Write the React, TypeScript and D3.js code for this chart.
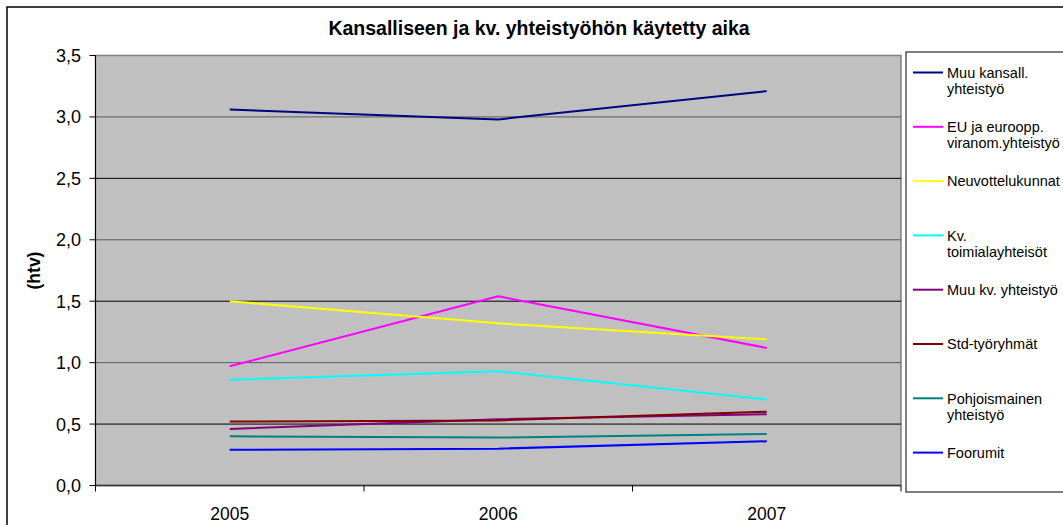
import React from "react";
import * as d3 from "d3";

const years = ["2005", "2006", "2007"];
const seriesNames = [
  ["Muu kansall.", "yhteistyö"],
  ["EU ja euroopp.", "viranom.yhteistyö"],
  ["Neuvottelukunnat"],
  ["Kv.", "toimialayhteisöt"],
  ["Muu kv. yhteistyö"],
  ["Std-työryhmät"],
  ["Pohjoismainen", "yhteistyö"],
  ["Foorumit"],
];
const seriesColors = ["#000080", "#FF00FF", "#FFFF00", "#00FFFF", "#800080", "#800000", "#008080", "#0000FF"];
const muuKansall = [3.06, 2.98, 3.21];
const euViranom = [0.97, 1.54, 1.12];
const neuvottelukunnat = [1.5, 1.32, 1.19];
const kvToimiala = [0.86, 0.93, 0.7];
const muuKv = [0.46, 0.54, 0.58];
const stdTyoryhmat = [0.52, 0.53, 0.6];
const pohjoismainen = [0.4, 0.39, 0.42];
const foorumit = [0.29, 0.3, 0.36];
const seriesValues = [muuKansall, euViranom, neuvottelukunnat, kvToimiala, muuKv, stdTyoryhmat, pohjoismainen, foorumit];
const yTicks = [0, 0.5, 1, 1.5, 2, 2.5, 3, 3.5];

export default function App() {
  const W = 1063, H = 525;
  const left = 95.5, right = 901, top = 55.5, bottom = 485.5;
  const x = d3.scaleBand<string>().domain(years).range([left, right]).paddingInner(0).paddingOuter(0);
  const y = d3.scaleLinear().domain([0, 3.5]).range([bottom, top]);
  const line = d3.line<number>()
    .x((_, i) => (x(years[i]) as number) + x.bandwidth() / 2)
    .y((d) => y(d));
  const fmt = (v: number) => v.toFixed(1).replace(".", ",");
  const bounds = [...years.map((yr) => x(yr) as number), right];
  const font = "Arial, 'Liberation Sans', sans-serif";
  const legX = 906, legTop = 52, legBottom = 492;
  const legY0 = 72.5, legStep = 54.3;

  return (
    <svg width={W} height={H} style={{ position: "absolute", left: 0, top: 0, display: "block" }} fontFamily={font}>
      <rect x={0} y={0} width={W} height={H} fill="#fff" />
      <rect x={7} y={7} width={W + 20} height={H + 20} fill="none" stroke="#000" strokeWidth={1.5} />
      <text x={539} y={35} textAnchor="middle" fontWeight="bold" fontSize={19.5}>
        Kansalliseen ja kv. yhteistyöhön käytetty aika
      </text>
      <rect x={left} y={top} width={right - left} height={bottom - top} fill="#C0C0C0" stroke="#808080" strokeWidth={1.5} />
      {yTicks.filter((t) => t > 0 && t < 3.5).map((t, i) => (
        <line key={"g" + t} x1={left} x2={right} y1={y(t)} y2={y(t)} stroke={i % 2 === 0 ? "#000" : "#5a5a5a"} strokeWidth={1} />
      ))}
      <line x1={left} x2={left} y1={top} y2={bottom} stroke="#000" strokeWidth={1} />
      <line x1={left} x2={right} y1={bottom} y2={bottom} stroke="#333" strokeWidth={1.5} />
      {yTicks.map((t) => (
        <g key={"y" + t}>
          <line x1={left - 6} x2={left} y1={y(t)} y2={y(t)} stroke="#000" />
          <text x={81} y={y(t)} dy="0.36em" textAnchor="end" fontSize={18}>{fmt(t)}</text>
        </g>
      ))}
      {bounds.map((b, i) => (
        <line key={"xt" + i} x1={b} x2={b} y1={bottom} y2={bottom + 6} stroke="#000" />
      ))}
      {years.map((yr) => (
        <text key={yr} x={(x(yr) as number) + x.bandwidth() / 2} y={520} textAnchor="middle" fontSize={17.5}>{yr}</text>
      ))}
      <text transform={`translate(40,${(top + bottom) / 2}) rotate(-90)`} textAnchor="middle" fontWeight="bold" fontSize={17.5}>(htv)</text>
      {seriesValues.map((vals, i) => (
        <path key={"s" + i} d={line(vals) || ""} fill="none" stroke={seriesColors[i]} strokeWidth={2} strokeLinejoin="round" />
      ))}
      <rect x={legX} y={legTop} width={200} height={legBottom - legTop} fill="#fff" stroke="#000" strokeWidth={1} />
      {seriesNames.map((lines, i) => {
        const cy = legY0 + i * legStep;
        return (
          <g key={"l" + i}>
            <line x1={913} x2={943} y1={cy} y2={cy} stroke={seriesColors[i]} strokeWidth={2} />
            {lines.map((t, j) => (
              <text key={j} x={947} y={cy + j * 16} dy="0.36em" fontSize={14.5}>{t}</text>
            ))}
          </g>
        );
      })}
    </svg>
  );
}
